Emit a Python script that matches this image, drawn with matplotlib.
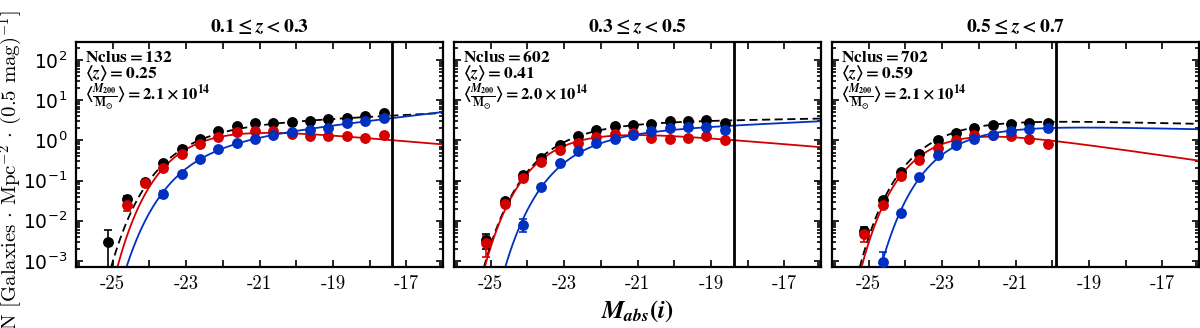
import numpy as np
import matplotlib
matplotlib.use('Agg')
import matplotlib.pyplot as plt
from matplotlib.ticker import FixedLocator, FixedFormatter, LogLocator, NullFormatter

plt.rcParams['mathtext.fontset'] = 'cm'
plt.rcParams['axes.unicode_minus'] = False
# custom math set (bold serif) used for titles, annotations and the x label
plt.rcParams['mathtext.rm'] = 'STIXGeneral:bold'
plt.rcParams['mathtext.bf'] = 'STIXGeneral:bold'
plt.rcParams['mathtext.it'] = 'STIXGeneral:italic:bold'
plt.rcParams['mathtext.fallback'] = 'stix'

# ---------------- data ----------------
titles = [r'$0.1 \leq z < 0.3$',
          r'$0.3 \leq z < 0.5$',
          r'$0.5 \leq z < 0.7$']
nclus = [132, 602, 702]
zmean = ['0.25', '0.41', '0.59']
mass = ['2.1', '2.0', '2.1']
mag_limit = [-17.38, -18.38, -19.89]

# panel 1
M_all_1 = [-25.12, -24.62, -24.12, -23.62, -23.12, -22.62, -22.12, -21.62,
           -21.12, -20.62, -20.12, -19.62, -19.12, -18.62, -18.12, -17.62]
N_all_1 = [3.0e-3, 0.035, 0.09, 0.28, 0.62, 1.1, 1.7, 2.3,
           2.7, 2.75, 2.9, 3.0, 3.35, 3.7, 4.0, 4.8]
E_all_1 = [3.0e-3, 0.006, 0.01, 0.02, 0.03, 0.05, 0.06, 0.07,
           0.08, 0.08, 0.08, 0.09, 0.1, 0.1, 0.12, 0.15]
M_red_1 = [-24.62, -24.12, -23.62, -23.12, -22.62, -22.12, -21.62, -21.12,
           -20.62, -20.12, -19.62, -19.12, -18.62, -18.12, -17.62]
N_red_1 = [0.025, 0.087, 0.21, 0.45, 0.8, 1.2, 1.6, 1.75,
           1.7, 1.47, 1.29, 1.29, 1.29, 1.15, 1.33]
E_red_1 = [0.008, 0.01, 0.015, 0.02, 0.03, 0.04, 0.05, 0.05,
           0.05, 0.05, 0.05, 0.05, 0.05, 0.05, 0.06]
M_blue_1 = [-23.62, -23.12, -22.62, -22.12, -21.62, -21.12, -20.62,
            -20.12, -19.62, -19.12, -18.62, -18.12, -17.62]
N_blue_1 = [0.046, 0.15, 0.35, 0.62, 0.84, 1.1, 1.38,
            1.62, 1.78, 2.1, 2.7, 3.0, 3.6]
E_blue_1 = [0.009, 0.015, 0.02, 0.03, 0.03, 0.04, 0.05,
            0.05, 0.06, 0.07, 0.08, 0.09, 0.1]

# panel 2
M_all_2 = [-25.12, -24.62, -24.12, -23.62, -23.12, -22.62, -22.12,
           -21.62, -21.12, -20.62, -20.12, -19.62, -19.12, -18.62]
N_all_2 = [3.35e-3, 0.0316, 0.138, 0.363, 0.776, 1.26, 1.86,
           2.24, 2.45, 2.63, 2.99, 3.02, 3.31, 2.75]
E_all_2 = [1.35e-3, 0.004, 0.008, 0.015, 0.02, 0.03, 0.04,
           0.05, 0.05, 0.05, 0.06, 0.06, 0.07, 0.07]
M_red_2 = [-25.12, -24.62, -24.12, -23.62, -23.12, -22.62, -22.12,
           -21.62, -21.12, -20.62, -20.12, -19.62, -19.12, -18.62]
N_red_2 = [2.75e-3, 0.0263, 0.117, 0.288, 0.562, 0.851, 1.20,
           1.48, 1.51, 1.17, 1.10, 1.15, 1.29, 1.05]
E_red_2 = [1.5e-3, 0.003, 0.007, 0.012, 0.02, 0.025, 0.03,
           0.04, 0.04, 0.04, 0.04, 0.04, 0.05, 0.05]
M_blue_2 = [-24.12, -23.62, -23.12, -22.62, -22.12, -21.62,
            -21.12, -20.62, -20.12, -19.62, -19.12, -18.62]
N_blue_2 = [7.9e-3, 0.0708, 0.269, 0.531, 0.851, 1.10,
            1.33, 1.70, 2.04, 2.14, 2.14, 1.82]
E_blue_2 = [2.8e-3, 0.005, 0.01, 0.02, 0.03, 0.03,
            0.04, 0.05, 0.05, 0.06, 0.06, 0.25]

# panel 3
M_all_3 = [-25.12, -24.62, -24.12, -23.62, -23.12, -22.62,
           -22.12, -21.62, -21.12, -20.62, -20.12]
N_all_3 = [5.4e-3, 0.0335, 0.162, 0.447, 1.0, 1.51,
           2.09, 2.45, 2.63, 2.69, 2.69]
E_all_3 = [1.5e-3, 0.004, 0.01, 0.015, 0.03, 0.04,
           0.05, 0.05, 0.06, 0.06, 0.07]
M_red_3 = [-25.12, -24.62, -24.12, -23.62, -23.12, -22.62,
           -22.12, -21.62, -21.12, -20.62, -20.12]
N_red_3 = [4.7e-3, 0.0251, 0.133, 0.335, 0.646, 1.0,
           1.38, 1.33, 1.26, 1.06, 0.794]
E_red_3 = [1.8e-3, 0.003, 0.008, 0.012, 0.02, 0.03,
           0.04, 0.04, 0.04, 0.04, 0.04]
M_blue_3 = [-24.62, -24.12, -23.62, -23.12, -22.62,
            -22.12, -21.62, -21.12, -20.62, -20.12]
N_blue_3 = [9.1e-4, 0.0155, 0.120, 0.422, 0.750,
            1.06, 1.38, 1.70, 1.95, 2.09]
E_blue_3 = [7e-4, 0.002, 0.008, 0.015, 0.025,
            0.03, 0.04, 0.05, 0.05, 0.06]

# Schechter fit parameters per panel: (log10 amplitude, M*, alpha)
fit_all = [(0.373, -22.80, -1.115), (0.436, -22.90, -1.040), (0.553, -22.90, -0.950)]
fit_red = [(0.412, -22.53, -0.805), (0.353, -22.84, -0.810), (0.397, -22.82, -0.670)]
fit_blue = [(0.003, -22.55, -1.270), (0.212, -22.41, -1.105), (0.408, -22.37, -0.950)]

x_major = [-25, -23, -21, -19, -17]
x_major_labels = ['-25', '-23', '-21', '-19', '-17']
x_minor = [-26, -24, -22, -20, -18, -16]

panels = [
    (M_all_1, N_all_1, E_all_1, M_red_1, N_red_1, E_red_1, M_blue_1, N_blue_1, E_blue_1),
    (M_all_2, N_all_2, E_all_2, M_red_2, N_red_2, E_red_2, M_blue_2, N_blue_2, E_blue_2),
    (M_all_3, N_all_3, E_all_3, M_red_3, N_red_3, E_red_3, M_blue_3, N_blue_3, E_blue_3),
]

RED = '#d40000'
BLUE = '#0030c0'


def schechter(M, logA, Mstar, alpha):
    x = 10 ** (0.4 * (Mstar - M))
    return 10 ** logA * x ** (alpha + 1) * np.exp(-x)


fig = plt.figure(figsize=(12, 3.28), dpi=100)
lefts = [76, 454, 832]
axes = []
for p in range(3):
    ax = fig.add_axes([lefts[p] / 1200, 61 / 328, 367 / 1200, 225 / 328])
    axes.append(ax)
    ax.set_yscale('log')
    Mc = np.linspace(-26, -16, 500)
    ax.plot(Mc, schechter(Mc, *fit_all[p]), color='black', ls=(0, (4.5, 2.5)), lw=1.3, zorder=2)
    ax.plot(Mc, schechter(Mc, *fit_red[p]), color=RED, ls='-', lw=1.3, zorder=2)
    ax.plot(Mc, schechter(Mc, *fit_blue[p]), color=BLUE, ls='-', lw=1.3, zorder=2)

    Ma, Na, Ea, Mr, Nr, Er, Mb, Nb, Eb = panels[p]
    ekw = dict(fmt='o', ms=6.8, capsize=3, elinewidth=1.2, capthick=1.2, zorder=3)
    ax.errorbar(Ma, Na, yerr=Ea, color='black', **ekw)
    ax.errorbar(Mr, Nr, yerr=Er, color=RED, **ekw)
    ax.errorbar(Mb, Nb, yerr=Eb, color=BLUE, **ekw)

    ax.axvline(mag_limit[p], color='black', lw=2.0, zorder=4)

    ax.set_xlim(-26, -16)
    ax.set_ylim(7e-4, 2.85e2)
    ax.xaxis.set_major_locator(FixedLocator(x_major))
    ax.xaxis.set_major_formatter(FixedFormatter(x_major_labels))
    ax.xaxis.set_minor_locator(FixedLocator(x_minor))
    ax.yaxis.set_major_locator(LogLocator(base=10, numticks=20))
    ax.yaxis.set_minor_locator(LogLocator(base=10, subs=np.arange(2, 10), numticks=20))
    ax.yaxis.set_minor_formatter(NullFormatter())
    ax.tick_params(which='both', direction='in', top=True, right=True, width=1.2)
    ax.tick_params(which='major', length=5, labelsize=13.5, pad=6)
    ax.tick_params(which='minor', length=3)
    ax.tick_params(axis='x', which='minor', length=5)
    for lab in ax.get_xticklabels():
        lab.set_family('cmr10')
    if p > 0:
        ax.set_yticklabels([])
    for s in ax.spines.values():
        s.set_linewidth(1.6)

    ax.set_title(titles[p], fontsize=14, pad=7, math_fontfamily='custom')
    tkw = dict(transform=ax.transAxes, va='center', ha='left', math_fontfamily='custom')
    ax.text(0.025, 0.935, r'$\mathrm{Nclus} = %d$' % nclus[p], fontsize=12.5, **tkw)
    ax.text(0.025, 0.860, r'$\langle z \rangle = %s$' % zmean[p], fontsize=12.5, **tkw)
    ax.text(0.025, 0.755,
            r'$\langle \frac{M_{200}}{\mathrm{M}_{\odot}} \rangle = %s \times 10^{14}$' % mass[p],
            fontsize=12, **tkw)

axes[0].set_ylabel(r'N [Galaxies $\cdot$ Mpc$^{-2}$ $\cdot$ (0.5 mag)$^{-1}$]',
                   fontsize=15, family='cmr10')
axes[0].yaxis.set_label_coords(-0.14, 0.43)
axes[1].set_xlabel(r'$M_{abs}(i)$', fontsize=18, labelpad=4, math_fontfamily='custom')

fig.savefig('out.png', dpi=100)
